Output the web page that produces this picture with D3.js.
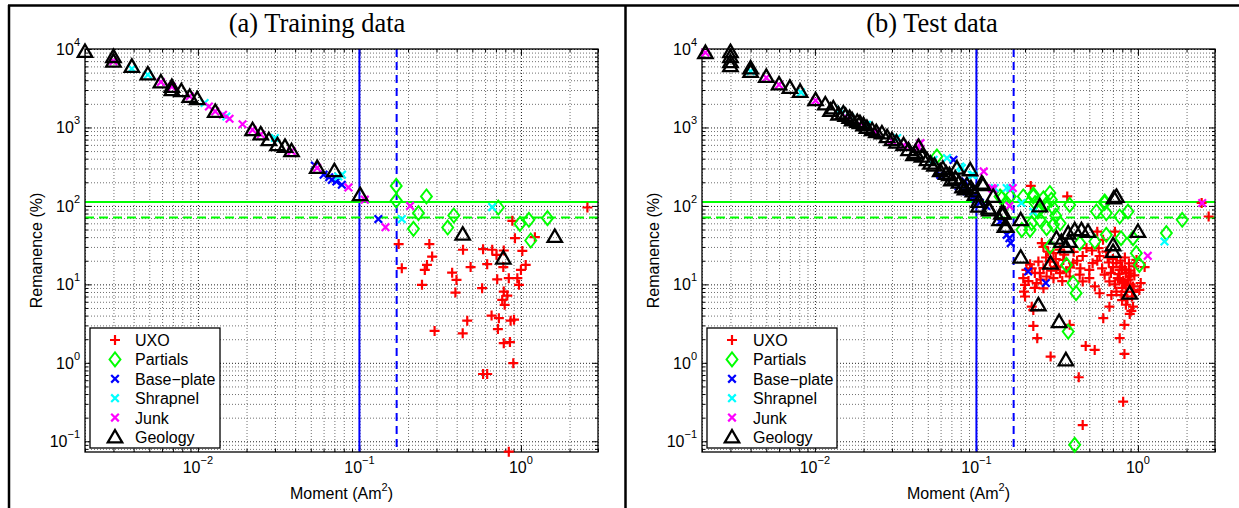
<!DOCTYPE html>
<html>
<head>
<meta charset="utf-8">
<script src="https://cdn.jsdelivr.net/npm/d3@7"></script>
<style>
body { margin: 0; background: #fff; }
text { font-family: "Liberation Sans", Arial, sans-serif; }
</style>
</head>
<body>
<svg width="1239" height="508"></svg>
<script>
// ---- data: [moment (Am^2), remanence (%)] ----
const trainUXO = [
	[2.58, 95.5], [0.885, 64.6], [0.918, 38.8], [1.22, 40], [0.175, 32.6], [0.271, 32.6],
	[0.438, 27.6], [0.583, 28.1], [0.664, 27.6], [0.706, 23.8], [0.783, 27], [1.02, 26.7],
	[0.282, 22.6], [0.262, 17.7], [0.254, 15.3], [0.183, 16.1], [0.488, 16.6], [0.618, 18.1],
	[0.778, 16.6], [1.07, 17.7], [1.0, 15.3], [0.375, 14.1], [0.399, 11.4], [0.713, 11.6],
	[0.841, 12], [0.95, 12], [0.973, 9.87], [0.244, 9.87], [0.393, 7.85], [0.575, 8.93],
	[0.783, 8.1], [0.823, 7.19], [0.766, 6.34], [0.793, 5.48], [0.658, 4.0], [0.73, 3.71],
	[0.863, 3.45], [0.906, 3.55], [0.465, 3.45], [0.72, 2.69], [0.292, 2.55], [0.436, 2.38],
	[0.783, 1.78], [0.855, 1.84], [0.897, 0.99], [0.583, 0.72], [0.618, 0.72], [0.841, 0.0736]
];
const trainPartials = [
	[0.169, 180], [0.169, 117], [0.26, 132], [0.232, 81], [0.216, 51], [0.384, 75.5],
	[0.352, 53], [0.724, 95.5], [0.986, 59], [1.12, 66.5], [1.15, 36.2], [1.46, 69.8]
];
const trainBase = [
	[0.053, 327], [0.06, 250], [0.065, 232], [0.0675, 215], [0.072, 205], [0.0778, 186], [0.131, 68]
];
const trainShrapnel = [
	[0.0039, 5600], [0.0049, 4700], [0.011, 2050], [0.015, 1380], [0.030, 733],
	[0.074, 237], [0.078, 250], [0.183, 68], [0.664, 96.6]
];
const trainJunk = [
	[0.003, 7000], [0.0059, 3800], [0.0069, 3300], [0.0089, 2500], [0.0117, 1850], [0.0128, 1600],
	[0.0143, 1450], [0.0157, 1290], [0.0189, 1100], [0.0218, 930], [0.0245, 820], [0.038, 500],
	[0.0548, 305], [0.0855, 172], [0.108, 120], [0.145, 53.6], [0.206, 100]
];
const trainGeology = [
	[0.002, 9300], [0.003, 8000], [0.003, 7000], [0.0039, 6000], [0.0049, 4800], [0.0059, 3800],
	[0.0069, 3330], [0.0069, 3030], [0.0079, 2940], [0.0089, 2480], [0.0099, 2320], [0.0128, 1600],
	[0.0218, 936], [0.0245, 825], [0.0275, 697], [0.0311, 601], [0.0346, 573], [0.038, 505],
	[0.0548, 309], [0.070, 281], [0.101, 139], [0.436, 43.6], [1.62, 40.7], [0.778, 21.6]
];

const testUXO = [
	[0.217, 180], [0.365, 132], [2.74, 73.3], [2.48, 109],
	[0.254, 33.6], [0.278, 26.2], [0.329, 27.7], [0.345, 20.5], [0.242, 19.5], [0.26, 16.1],
	[0.247, 13.9], [0.195, 12], [0.2, 9.87], [0.197, 8.1], [0.236, 10.4], [0.272, 12.6],
	[0.30, 12], [0.329, 13.9], [0.36, 14.6], [0.313, 16.6], [0.378, 12.6], [0.285, 19.5],
	[0.30, 25], [0.397, 18.6], [0.436, 13.3], [0.455, 10.9], [0.455, 23], [0.5, 15.3],
	[0.541, 9.4], [0.524, 18.6], [0.579, 23], [0.637, 26.2], [0.571, 29], [0.608, 37],
	[0.622, 13.3], [0.666, 10.9], [0.685, 7.3], [0.666, 5.2], [0.702, 16.6], [0.736, 18.6],
	[0.771, 15.3], [0.798, 16.6], [0.842, 13.9], [0.889, 12.6], [0.771, 11.5], [0.825, 10.4],
	[0.932, 9.4], [0.736, 8.1], [0.798, 6.3], [0.842, 5.5], [0.932, 5.2], [0.91, 4.6],
	[0.825, 3.05], [0.771, 2.06], [0.825, 1.3], [0.81, 0.32], [0.455, 0.161], [0.43, 0.655],
	[0.288, 1.2], [0.475, 1.64], [0.54, 1.46], [0.238, 2.06], [0.225, 2.95], [0.378, 3.05],
	[0.61, 3.71], [1.04, 10.4], [1.02, 8.5], [1.1, 16.6], [0.98, 20.5], [0.56, 47], [0.72, 47],
	[0.204, 15.3], [0.26, 8.9], [0.22, 5.2], [0.579, 7.7], [0.225, 4.7],
	[0.75, 12], [0.8, 9], [0.85, 8], [0.88, 15], [0.9, 10], [0.95, 13], [0.78, 20], [0.86, 6.5],
	[0.92, 7], [0.7, 21], [0.66, 19], [0.6, 16], [0.95, 17], [0.83, 22], [0.89, 4.2],
	[0.21, 11], [0.23, 14], [0.27, 22], [0.32, 17], [0.35, 24], [0.4, 26], [0.42, 20],
	[0.48, 29], [0.52, 27], [0.2, 7], [0.215, 18],
	[0.81, 11], [0.87, 11.5], [0.76, 13.5], [0.83, 15.5], [0.9, 13.8], [0.79, 7.3],
	[0.84, 9.6], [0.94, 8], [0.72, 10], [0.88, 18.5], [0.68, 14], [0.65, 22],
	[0.23, 9], [0.25, 11.5], [0.29, 15], [0.34, 11], [0.38, 16.5], [0.31, 21], [0.22, 16],
	[0.26, 30], [0.44, 16], [0.5, 12], [0.56, 20]
];
const testPartials = [
	[0.0569, 427], [0.14, 132], [0.154, 109], [0.144, 126], [0.162, 132], [0.191, 49.5],
	[0.225, 132], [0.231, 109], [0.22, 60.4], [0.247, 66.5], [0.269, 103], [0.285, 146],
	[0.291, 120], [0.299, 94], [0.272, 52], [0.299, 57.4], [0.285, 30.3], [0.378, 103],
	[0.361, 17.7], [0.397, 10.4], [0.414, 7.72], [0.37, 2.5], [0.406, 0.09], [0.437, 33.6],
	[0.553, 84.9], [0.622, 109], [0.637, 81], [0.637, 42.8], [0.541, 35.2], [0.771, 73.3],
	[0.868, 84.9], [0.786, 38.8], [0.932, 38.8], [0.977, 25], [1.02, 17.7], [1.5, 45],
	[1.88, 66.5], [0.225, 140], [0.622, 114], [0.195, 132], [0.215, 49.5], [0.26, 125],
	[0.24, 85], [0.31, 75], [0.33, 60]
];
const testBase = [
	[0.16, 38.8], [0.163, 33.6], [0.154, 42.8], [0.209, 14.6], [0.269, 10.4], [0.14, 62.7],
	[0.0721, 387], [0.0873, 153], [0.0956, 132], [0.0775, 177], [0.0851, 205], [0.0597, 249],
	[0.099, 120], [0.105, 110], [0.115, 100]
];
const testShrapnel = [
	[0.004, 5200], [0.0082, 2800], [0.0144, 1680], [0.0165, 1350], [0.021, 1080], [0.0323, 733],
	[0.0543, 387], [0.0657, 407], [0.0794, 318], [0.0813, 303], [0.0937, 249], [0.0958, 249],
	[0.13, 169], [0.154, 169], [0.162, 169], [0.19, 109], [0.225, 84.9], [1.46, 35.2]
];
const testJunk = [
	[0.0021, 9000], [0.005, 4300], [0.006, 3500], [0.0101, 2200], [0.016, 1300], [0.02, 1050],
	[0.024, 870], [0.03, 680], [0.0354, 590], [0.0438, 560], [0.045, 630], [0.111, 275],
	[0.1245, 169], [0.127, 164], [0.168, 169], [0.16, 100], [2.5, 109], [1.15, 23.1]
];
const testGeology = [
	[0.0021, 9000], [0.003, 9240], [0.003, 7980], [0.003, 6880], [0.003, 6120], [0.004, 5720],
	[0.004, 5180], [0.005, 4470], [0.006, 3580], [0.007, 3240], [0.0081, 2880], [0.0101, 2250],
	[0.0116, 1990], [0.0125, 1650], [0.013, 1770], [0.014, 1480], [0.015, 1530], [0.0155, 1420],
	[0.0164, 1340], [0.017, 1250], [0.0183, 1190], [0.019, 1150], [0.02, 1080], [0.021, 1000],
	[0.0226, 935], [0.024, 880], [0.026, 849], [0.028, 760], [0.03, 697], [0.032, 650],
	[0.0354, 601], [0.038, 520], [0.0408, 449], [0.042, 480], [0.0438, 573], [0.046, 430],
	[0.0494, 387], [0.052, 350], [0.055, 330], [0.0597, 281], [0.062, 300], [0.065, 260],
	[0.068, 250], [0.07, 215], [0.074, 227], [0.0757, 303], [0.078, 200], [0.082, 175],
	[0.085, 165], [0.0873, 186], [0.0915, 288], [0.0925, 170], [0.095, 155], [0.098, 140],
	[0.103, 99], [0.103, 114], [0.108, 195], [0.11, 186], [0.119, 93.7], [0.12, 89],
	[0.127, 132], [0.139, 66.5], [0.143, 81], [0.147, 81], [0.15, 54.6], [0.153, 54.6],
	[0.188, 66.5], [0.188, 22.2], [0.247, 100], [0.288, 18.6], [0.242, 5.48], [0.325, 3.35],
	[0.358, 1.09], [0.313, 38.8], [0.336, 35.2], [0.37, 45], [0.377, 35.2], [0.406, 49.5],
	[0.447, 49.5], [0.491, 47.2], [0.358, 30.3], [0.736, 132], [0.71, 126], [0.702, 31.9],
	[0.702, 26.2], [1.0, 47.2], [0.889, 7.72]
];

const legendLabels = ["UXO", "Partials", "Base\u2212plate", "Shrapnel", "Junk", "Geology"];
const xDomain = [0.002, 3];
const yDomain = [0.073, 10000];
const momentThresholds = [0.1, 0.17];
const remanenceThresholds = [112, 71];

const svg = d3.select("svg");
const plotTop = 49, plotBottom = 452;

const shapes = {
	plus: "M-5,0H5M0,-5V5",
	times: "M-3.8,-3.8L3.8,3.8M-3.8,3.8L3.8,-3.8",
	diamond: "M0,-7L5.5,0L0,7L-5.5,0Z",
	triangle: "M0,-7L7.2,5.4L-7.2,5.4Z"
};
const styles = [
	{ shape: "plus", color: "#ff0000", width: 2.2 },
	{ shape: "diamond", color: "#00ff00", width: 1.9 },
	{ shape: "times", color: "#0000ff", width: 2.2 },
	{ shape: "times", color: "#00ffff", width: 2.2 },
	{ shape: "times", color: "#ff00ff", width: 2.2 },
	{ shape: "triangle", color: "#000000", width: 2.3 }
];

// outer frame around the two panels
svg.append("line").attr("x1", 8).attr("x2", 1239).attr("y1", 5.5).attr("y2", 5.5)
	.attr("stroke", "#000").attr("stroke-width", 2.5);
svg.append("line").attr("x1", 9).attr("x2", 9).attr("y1", 5).attr("y2", 508)
	.attr("stroke", "#000").attr("stroke-width", 2.5);
svg.append("line").attr("x1", 625.5).attr("x2", 625.5).attr("y1", 5).attr("y2", 508)
	.attr("stroke", "#000").attr("stroke-width", 2.5);

function supLabel(sel, base, exp, supSize, dy) {
	sel.append("tspan").text(base);
	sel.append("tspan").attr("dy", dy).attr("font-size", supSize).text(exp);
}

function drawPanel(p) {
	const x = d3.scaleLog().domain(xDomain).range([p.left, p.right]);
	const y = d3.scaleLog().domain(yDomain).range([plotBottom, plotTop]);
	const w = p.right - p.left, h = plotBottom - plotTop;
	const g = svg.append("g");

	const isMajor = v => Math.abs(Math.log10(v) - Math.round(Math.log10(v))) < 1e-9;
	const xAll = x.ticks(), yAll = y.ticks();
	const xMajor = xAll.filter(isMajor), xMinor = xAll.filter(v => !isMajor(v));
	const yMajor = yAll.filter(isMajor), yMinor = yAll.filter(v => !isMajor(v));

	g.append("rect").attr("x", p.left).attr("y", plotTop).attr("width", w).attr("height", h)
		.attr("fill", "#fff");

	// grid
	const grid = (axis, vals, color, tr) => g.append("g")
		.attr("transform", tr)
		.call(axis.tickValues(vals).tickFormat(""))
		.call(a => a.select(".domain").remove())
		.call(a => a.selectAll("line").attr("stroke", color).attr("stroke-dasharray", "1,2"));
	grid(d3.axisBottom(x).tickSize(-h), xMinor, "#707070", `translate(0,${plotBottom})`);
	grid(d3.axisLeft(y).tickSize(-w), yMinor, "#707070", `translate(${p.left},0)`);
	grid(d3.axisBottom(x).tickSize(-h), xMajor, "#222", `translate(0,${plotBottom})`);
	grid(d3.axisLeft(y).tickSize(-w), yMajor, "#222", `translate(${p.left},0)`);

	// tick marks on all four sides
	const ticks = (axis, tr) => g.append("g").attr("transform", tr)
		.call(axis.tickFormat(""))
		.call(a => a.select(".domain").remove())
		.call(a => a.selectAll("line").attr("stroke", "#000"));
	ticks(d3.axisBottom(x).tickValues(xMajor).tickSize(-6), `translate(0,${plotBottom})`);
	ticks(d3.axisBottom(x).tickValues(xMinor).tickSize(-3), `translate(0,${plotBottom})`);
	ticks(d3.axisTop(x).tickValues(xMajor).tickSize(-6), `translate(0,${plotTop})`);
	ticks(d3.axisTop(x).tickValues(xMinor).tickSize(-3), `translate(0,${plotTop})`);
	ticks(d3.axisLeft(y).tickValues(yMajor).tickSize(-6), `translate(${p.left},0)`);
	ticks(d3.axisLeft(y).tickValues(yMinor).tickSize(-3), `translate(${p.left},0)`);
	ticks(d3.axisRight(y).tickValues(yMajor).tickSize(-6), `translate(${p.right},0)`);
	ticks(d3.axisRight(y).tickValues(yMinor).tickSize(-3), `translate(${p.right},0)`);

	// threshold lines
	momentThresholds.forEach((m, i) => g.append("line")
		.attr("x1", x(m)).attr("x2", x(m)).attr("y1", plotTop).attr("y2", plotBottom)
		.attr("stroke", "#0000ff").attr("stroke-width", 2)
		.attr("stroke-dasharray", i ? "8,5" : null));
	remanenceThresholds.forEach((r, i) => g.append("line")
		.attr("x1", p.left).attr("x2", p.right).attr("y1", y(r)).attr("y2", y(r))
		.attr("stroke", "#00ff00").attr("stroke-width", 2)
		.attr("stroke-dasharray", i ? "9,5" : null));

	g.append("rect").attr("x", p.left).attr("y", plotTop).attr("width", w).attr("height", h)
		.attr("fill", "none").attr("stroke", "#000").attr("stroke-width", 1.3);

	// markers
	p.series.forEach((data, i) => {
		const s = styles[i];
		g.append("g").selectAll("path").data(data).join("path")
			.attr("transform", d => `translate(${x(d[0])},${y(d[1])})`)
			.attr("d", shapes[s.shape])
			.attr("fill", "none").attr("stroke", s.color).attr("stroke-width", s.width);
	});

	// tick labels
	g.append("g").selectAll("text").data(xMajor).join("text")
		.attr("x", d => x(d)).attr("y", 473).attr("text-anchor", "middle").attr("font-size", 16)
		.each(function (d) {
			const e = Math.round(Math.log10(d));
			supLabel(d3.select(this), "10", e < 0 ? "\u2212" + (-e) : String(e), 11, -9);
		});
	g.append("g").selectAll("text").data(yMajor).join("text")
		.attr("x", p.left - 5).attr("y", d => y(d) + 6).attr("text-anchor", "end").attr("font-size", 16)
		.each(function (d) {
			const e = Math.round(Math.log10(d));
			supLabel(d3.select(this), "10", e < 0 ? "\u2212" + (-e) : String(e), 11, -9);
		});

	// axis titles
	const xl = g.append("text").attr("x", (p.left + p.right) / 2).attr("y", 499)
		.attr("text-anchor", "middle").attr("font-size", 16);
	xl.append("tspan").text("Moment (Am");
	xl.append("tspan").attr("dy", -8).attr("font-size", 11).text("2");
	xl.append("tspan").attr("dy", 8).text(")");

	g.append("text")
		.attr("transform", `translate(${p.ylabelX},${(plotTop + plotBottom) / 2}) rotate(-90)`)
		.attr("text-anchor", "middle").attr("font-size", 16).text("Remanence (%)");

	g.append("text").attr("x", p.titleX).attr("y", 32).attr("text-anchor", "middle")
		.attr("font-size", 26.5)
		.style("font-family", "'Liberation Serif', 'Times New Roman', serif")
		.text(p.title);

	// legend
	const lg = g.append("g");
	lg.append("rect").attr("x", p.legend.x).attr("y", p.legend.y)
		.attr("width", p.legend.w).attr("height", p.legend.h)
		.attr("fill", "#fff").attr("stroke", "#000").attr("stroke-width", 1.3);
	legendLabels.forEach((label, i) => {
		const ry = 340 + i * 19.4;
		const s = styles[i];
		lg.append("path").attr("transform", `translate(${p.legend.mx},${ry})`)
			.attr("d", shapes[s.shape]).attr("fill", "none")
			.attr("stroke", s.color).attr("stroke-width", s.width);
		lg.append("text").attr("x", p.legend.tx).attr("y", ry + 6).attr("font-size", 16).text(label);
	});
}

drawPanel({
	left: 85, right: 598, title: "(a) Training data", titleX: 317, ylabelX: 42,
	legend: { x: 90, y: 328, w: 130, h: 120, mx: 115, tx: 135 },
	series: [trainUXO, trainPartials, trainBase, trainShrapnel, trainJunk, trainGeology]
});
drawPanel({
	left: 702, right: 1215, title: "(b) Test data", titleX: 932, ylabelX: 659,
	legend: { x: 707, y: 328, w: 130, h: 120, mx: 732, tx: 753 },
	series: [testUXO, testPartials, testBase, testShrapnel, testJunk, testGeology]
});
</script>
</body>
</html>
